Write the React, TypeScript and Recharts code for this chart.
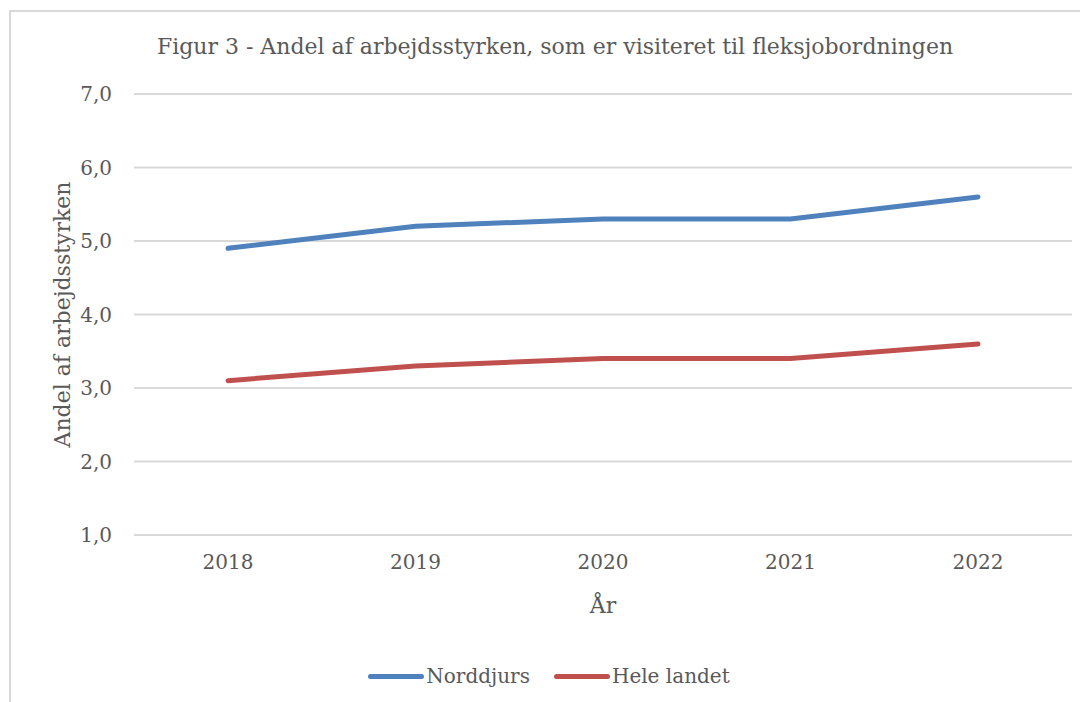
import { LineChart, Line, XAxis, YAxis, CartesianGrid, Legend, Label } from 'recharts';

const years = ['2018', '2019', '2020', '2021', '2022'];
const norddjurs = [4.9, 5.2, 5.3, 5.3, 5.6];
const heleLandet = [3.1, 3.3, 3.4, 3.4, 3.6];
const yTicks = [1, 2, 3, 4, 5, 6, 7];
const seriesOrder = ['Norddjurs', 'Hele landet'];

const data = years.map((year, i) => ({
  year,
  norddjurs: norddjurs[i],
  heleLandet: heleLandet[i],
}));

const FONT = '"DejaVu Serif", "Liberation Serif", serif';
const TEXT = '#595959';

function ChartLegend({ payload }: any) {
  const items = [...(payload || [])].sort(
    (a: any, b: any) => seriesOrder.indexOf(a.value) - seriesOrder.indexOf(b.value)
  );
  return (
    <div style={{ display: 'flex', justifyContent: 'center', alignItems: 'center', height: 30, paddingLeft: 18, fontFamily: FONT, fontSize: 20, color: TEXT }}>
      {items.map((p: any) => (
        <div key={p.value} style={{ display: 'flex', alignItems: 'center', margin: '0 12px' }}>
          <span style={{ display: 'inline-block', width: 56, height: 5, borderRadius: 3, background: p.color, marginRight: 2 }} />
          <span>{p.value}</span>
        </div>
      ))}
    </div>
  );
}

export default function App() {
  return (
    <div style={{ position: 'relative', width: 1080, height: 694, fontFamily: FONT }}>
      <div style={{ position: 'absolute', left: 1, top: 2, width: 1079, height: 692, borderLeft: '2px solid #D9D9D9', borderTop: '2px solid #D9D9D9', boxSizing: 'border-box' }} />
      <div style={{ position: 'absolute', left: 0, top: 26, width: 1094, textAlign: 'center', fontSize: 22, color: TEXT }}>
        Figur 3 - Andel af arbejdsstyrken, som er visiteret til fleksjobordningen
      </div>
      <LineChart width={1080} height={694} data={data} margin={{ top: 86, right: 16, left: 0, bottom: 11 }}>
        <CartesianGrid vertical={false} stroke="#D9D9D9" strokeWidth={2} />
        <XAxis
          dataKey="year"
          padding={{ left: 94, right: 94 }}
          axisLine={false}
          tickLine={false}
          tickMargin={14}
          height={126}
          tick={{ fill: TEXT, fontSize: 20, fontFamily: FONT }}
        >
          <Label value="År" position="insideBottom" offset={48} fill={TEXT} fontSize={22} fontFamily={FONT} />
        </XAxis>
        <YAxis
          domain={[1, 7]}
          ticks={yTicks}
          width={126}
          axisLine={false}
          tickLine={false}
          tickMargin={16}
          tickFormatter={(v: number) => v.toFixed(1).replace('.', ',')}
          tick={{ fill: TEXT, fontSize: 20, fontFamily: FONT }}
        >
          <Label value="Andel af arbejdsstyrken" angle={-90} position="center" dx={-9} fill={TEXT} fontSize={22} fontFamily={FONT} />
        </YAxis>
        <Legend verticalAlign="bottom" height={30} content={ChartLegend} />
        <Line type="linear" dataKey="norddjurs" name="Norddjurs" stroke="#4F81BD" strokeWidth={5} strokeLinecap="round" dot={false} isAnimationActive={false} />
        <Line type="linear" dataKey="heleLandet" name="Hele landet" stroke="#C0504D" strokeWidth={5} strokeLinecap="round" dot={false} isAnimationActive={false} />
      </LineChart>
    </div>
  );
}
